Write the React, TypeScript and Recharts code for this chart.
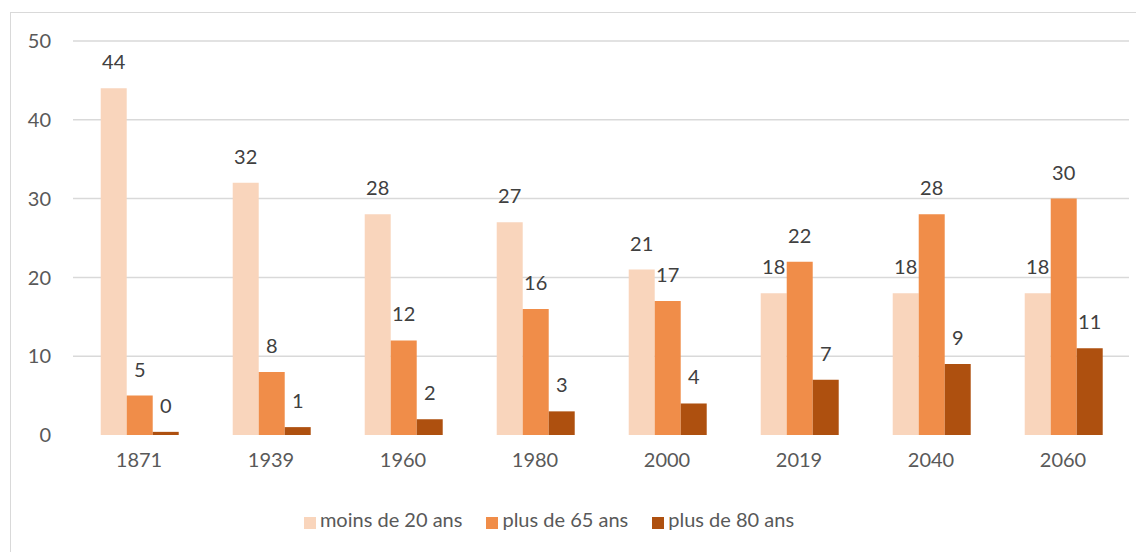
import { BarChart, Bar, XAxis, YAxis, CartesianGrid, Legend, LabelList } from "recharts";

const years = ["1871", "1939", "1960", "1980", "2000", "2019", "2040", "2060"];
const moins20 = [44, 32, 28, 27, 21, 18, 18, 18];
const plus65 = [5, 8, 12, 16, 17, 22, 28, 30];
const plus80 = [0.4, 1, 2, 3, 4, 7, 9, 11];
const yTicks = [0, 10, 20, 30, 40, 50];

const data = years.map((y, i) => ({
  year: y,
  moins20: moins20[i],
  plus65: plus65[i],
  plus80: plus80[i],
}));

const font = "Lato, 'Noto Sans', sans-serif";
const labelStyle = { fill: "#404040", fontSize: 20, fontFamily: font };
const fmt = (v: any) => Math.round(Number(v));

export default function App() {
  return (
    <div
      style={{
        marginLeft: 2,
        marginTop: 4,
        width: 1125,
        height: 560,
        border: "1px solid #d9d9d9",
        background: "#fff",
        fontFamily: font,
      }}
    >
      <BarChart
        width={1125}
        height={540}
        data={data}
        margin={{ top: 28, right: 7, left: -2, bottom: 22 }}
        barCategoryGap="21%"
        barGap={0}
      >
        <CartesianGrid vertical={false} stroke="#d9d9d9" strokeWidth={1.5} horizontalValues={[10, 20, 30, 40, 50]} />
        <XAxis
          dataKey="year"
          axisLine={false}
          tickLine={false}
          height={72}
          tickMargin={12}
          tick={{ fill: "#595959", fontSize: 20, fontFamily: font }}
        />
        <YAxis
          domain={[0, 50]}
          ticks={yTicks}
          width={64}
          axisLine={false}
          tickLine={false}
          tickMargin={16}
          tick={{ fill: "#595959", fontSize: 20, fontFamily: font }}
        />
        <Legend
          verticalAlign="bottom"
          iconType="square"
          iconSize={12}
          wrapperStyle={{ left: -10 }}
          formatter={(value: any) => (
            <span style={{ color: "#595959", fontSize: 20, fontFamily: font, marginRight: 14 }}>{value}</span>
          )}
        />
        <Bar dataKey="moins20" name="moins de 20 ans" fill="#f9d5bc" isAnimationActive={false}>
          <LabelList dataKey="moins20" position="top" offset={19} formatter={fmt} style={labelStyle} />
        </Bar>
        <Bar dataKey="plus65" name="plus de 65 ans" fill="#f08d49" isAnimationActive={false}>
          <LabelList dataKey="plus65" position="top" offset={19} formatter={fmt} style={labelStyle} />
        </Bar>
        <Bar dataKey="plus80" name="plus de 80 ans" fill="#ae500f" isAnimationActive={false}>
          <LabelList dataKey="plus80" position="top" offset={19} formatter={fmt} style={labelStyle} />
        </Bar>
      </BarChart>
    </div>
  );
}
